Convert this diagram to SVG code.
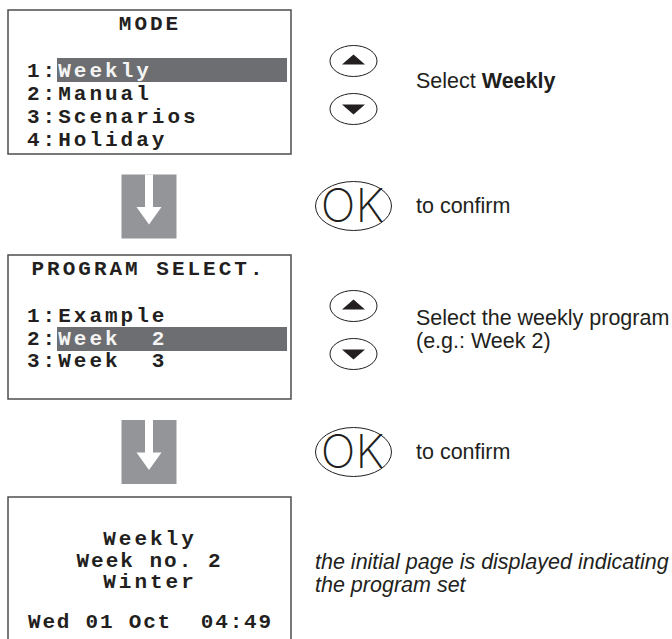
<svg xmlns="http://www.w3.org/2000/svg" width="672" height="639" viewBox="0 0 672 639">
<style>
.scr{fill:#fff;stroke:#4d4d4f;stroke-width:1.5}
.hl{fill:#6d6e71}
.mono{font-family:"Liberation Mono","DejaVu Sans Mono",monospace;font-weight:bold;font-size:21px;fill:#231f20;letter-spacing:3px}
.inv{fill:#f4f4f4}
.mid{text-anchor:middle}
.btn{fill:#fff;stroke:#231f20;stroke-width:1}
.tri{fill:#231f20}
.lbl{font-family:"Liberation Sans",Arial,sans-serif;font-size:21.5px;fill:#231f20}
.ok{font-family:Inter,"Liberation Sans",sans-serif;font-weight:200;font-size:46px;fill:#231f20;text-anchor:middle}
.arr{fill:#939598}
</style>
<defs>
<g id="arrowDown">
<rect class="arr" x="0" y="0" width="55" height="64"/>
<rect fill="#fff" x="23.5" y="0" width="8" height="33"/>
<polygon fill="#fff" points="15,32.5 40,32.5 27.5,50"/>
</g>
<g id="upBtn">
<ellipse class="btn" cx="0" cy="0" rx="23.5" ry="15.5"/>
<polygon class="tri" points="-11.5,3.5 11.5,3.5 0,-6.5"/>
</g>
<g id="downBtn">
<ellipse class="btn" cx="0" cy="0" rx="23.5" ry="15.5"/>
<polygon class="tri" points="-11.5,-4.5 11.5,-4.5 0,5.5"/>
</g>
<g id="okBtn">
<ellipse class="btn" cx="0" cy="0" rx="38" ry="24.5"/>
<text class="ok" x="-1" y="16">OK</text>
</g>
</defs>

<g id="screen-mode">
<rect class="scr" x="8" y="10" width="283" height="144"/>
<text class="mono mid" x="150" y="30">MODE</text>
<rect class="hl" x="57" y="58" width="230" height="24"/>
<text class="mono" x="27" y="77">1:<tspan class="inv">Weekly</tspan></text>
<text class="mono" x="27" y="100">2:Manual</text>
<text class="mono" x="27" y="123">3:Scenarios</text>
<text class="mono" x="27" y="146">4:Holiday</text>
</g>

<g id="screen-program">
<rect class="scr" x="8" y="255" width="283" height="144"/>
<text class="mono mid" x="148.5" y="275">PROGRAM SELECT.</text>
<rect class="hl" x="57" y="327" width="230" height="24"/>
<text class="mono" x="27" y="322">1:Example</text>
<text class="mono" x="27" y="345" xml:space="preserve">2:<tspan class="inv">Week  2</tspan></text>
<text class="mono" x="27" y="367" xml:space="preserve">3:Week  3</text>
</g>

<g id="screen-home">
<rect class="scr" x="8" y="497" width="283" height="170"/>
<text class="mono mid" x="150" y="545">Weekly</text>
<text class="mono mid" x="149.5" y="567" style="letter-spacing:2px">Week no. 2</text>
<text class="mono mid" x="150" y="588">Winter</text>
<text class="mono" x="28" y="628" xml:space="preserve" style="letter-spacing:1.8px">Wed 01 Oct  04:49</text>
</g>

<g id="connectors">
<use href="#arrowDown" x="121.5" y="174.5"/>
<use href="#arrowDown" x="121.5" y="420"/>
</g>

<g id="step1-buttons">
<use href="#upBtn" x="353.5" y="61"/>
<use href="#downBtn" x="353.5" y="109"/>
<text class="lbl" x="416" y="88">Select <tspan font-weight="bold">Weekly</tspan></text>
</g>

<g id="step1-ok">
<use href="#okBtn" x="353.5" y="206"/>
<text class="lbl" x="416" y="213">to confirm</text>
</g>

<g id="step2-buttons">
<use href="#upBtn" x="353.5" y="306"/>
<use href="#downBtn" x="353.5" y="354"/>
<text class="lbl" x="416" y="325">Select the weekly program</text>
<text class="lbl" x="416" y="348">(e.g.: Week 2)</text>
</g>

<g id="step2-ok">
<use href="#okBtn" x="353.5" y="452"/>
<text class="lbl" x="416" y="459">to confirm</text>
</g>

<g id="step3-note">
<text class="lbl" x="315" y="569" font-style="italic">the initial page is displayed indicating</text>
<text class="lbl" x="315" y="592" font-style="italic">the program set</text>
</g>
</svg>
